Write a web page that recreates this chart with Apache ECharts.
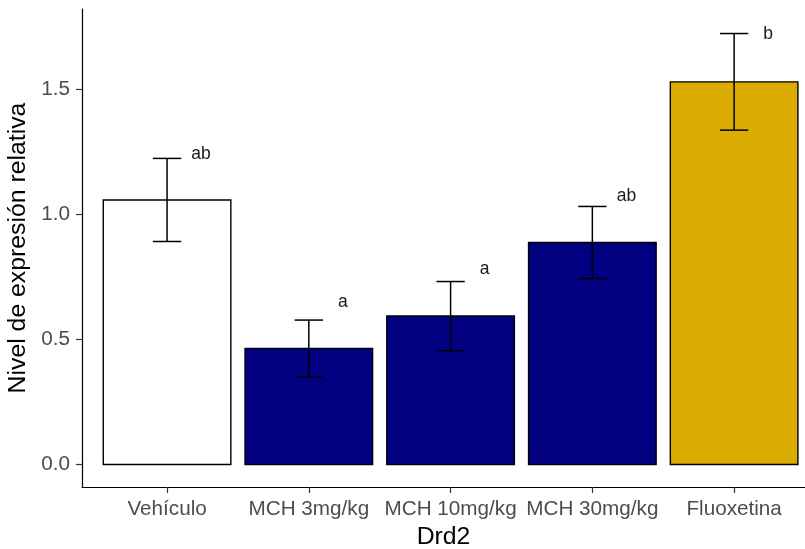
<!DOCTYPE html>
<html>
<head>
<meta charset="utf-8">
<script src="https://cdn.jsdelivr.net/npm/echarts@6/dist/echarts.min.js"></script>
<style>
  html, body { margin: 0; padding: 0; background: #fff; }
  #chart { width: 805px; height: 549px; }
</style>
</head>
<body>
<div id="chart"></div>
<script>
// Relative Drd2 expression per treatment group (mean ± SE) with significance letters
const categories = ['Vehículo', 'MCH 3mg/kg', 'MCH 10mg/kg', 'MCH 30mg/kg', 'Fluoxetina'];
const means = [1.057, 0.464, 0.593, 0.887, 1.529];
const se = [0.166, 0.113, 0.138, 0.144, 0.193];
const letters = ['ab', 'a', 'a', 'ab', 'b'];
const letterY = [1.239, 0.650, 0.782, 1.074, 1.720];
const yTicks = [0, 0.5, 1.0, 1.5];

// fill per group
const barColors = ['#FFFFFF', '#000080', '#000080', '#000080', '#DAAB00'];

const BAR_HALF = 0.45;   // bar half-width in category units
const CAP_HALF = 0.1;    // error-bar cap half-width
const LETTER_DX = 0.24;  // letter offset to the right of the bar centre

const rows = categories.map((c, i) => [i, means[i], se[i]]);

const chart = echarts.init(document.getElementById('chart'), null, { renderer: 'canvas' });

const axisFont = 'Liberation Sans, Arial, sans-serif';

chart.setOption({
  animation: false,
  backgroundColor: '#ffffff',
  grid: { left: 82, right: 0, top: 9, bottom: 62, containLabel: false, outerBoundsMode: 'none' },
  xAxis: {
    type: 'value',
    min: -0.6,
    max: 4.5,
    name: 'Drd2',
    nameLocation: 'middle',
    nameGap: 38,
    nameTextStyle: { color: '#000', fontSize: 24.8, fontFamily: axisFont },
    splitLine: { show: false },
    axisLine: { show: true, onZero: false, lineStyle: { color: '#000', width: 1.2 } },
    axisTick: { show: true, length: 6, customValues: categories.map((c, i) => i), lineStyle: { color: '#333', width: 1.2 } },
    axisLabel: {
      customValues: categories.map((c, i) => i),
      formatter: v => categories[Math.round(v)] || '',
      color: '#4D4D4D', fontSize: 20.7, fontFamily: axisFont, margin: 12
    }
  },
  yAxis: {
    type: 'value',
    min: -0.09,
    max: 1.82,
    name: 'Nivel de expresión relativa',
    nameLocation: 'middle',
    nameGap: 47,
    nameTextStyle: { color: '#000', fontSize: 24.8, fontFamily: axisFont },
    splitLine: { show: false },
    axisLine: { show: true, onZero: false, lineStyle: { color: '#000', width: 1.2 } },
    axisTick: { show: true, length: 6, customValues: yTicks, lineStyle: { color: '#333', width: 1.2 } },
    axisLabel: {
      customValues: yTicks,
      formatter: v => v.toFixed(1),
      color: '#4D4D4D', fontSize: 20.7, fontFamily: axisFont, margin: 12
    }
  },
  series: [
    {
      type: 'custom',
      name: 'bars',
      data: rows,
      renderItem: function (params, api) {
        const x = api.value(0), m = api.value(1);
        const p0 = api.coord([x - BAR_HALF, 0]);
        const p1 = api.coord([x + BAR_HALF, m]);
        return {
          type: 'rect',
          shape: { x: p0[0], y: p1[1], width: p1[0] - p0[0], height: p0[1] - p1[1] },
          style: { fill: barColors[params.dataIndex], stroke: '#000', lineWidth: 1.4 }
        };
      }
    },
    {
      type: 'custom',
      name: 'errors',
      data: rows,
      z: 3,
      renderItem: function (params, api) {
        const x = api.value(0), m = api.value(1), e = api.value(2);
        const top = api.coord([x, m + e]);
        const bot = api.coord([x, m - e]);
        const capL = api.coord([x - CAP_HALF, m])[0];
        const capR = api.coord([x + CAP_HALF, m])[0];
        const st = { stroke: '#000', lineWidth: 1.5 };
        return {
          type: 'group',
          children: [
            { type: 'line', shape: { x1: top[0], y1: top[1], x2: bot[0], y2: bot[1] }, style: st },
            { type: 'line', shape: { x1: capL, y1: top[1], x2: capR, y2: top[1] }, style: st },
            { type: 'line', shape: { x1: capL, y1: bot[1], x2: capR, y2: bot[1] }, style: st }
          ]
        };
      }
    },
    {
      type: 'custom',
      name: 'letters',
      data: categories.map((c, i) => [i, letterY[i]]),
      z: 4,
      renderItem: function (params, api) {
        const p = api.coord([api.value(0) + LETTER_DX, api.value(1)]);
        return {
          type: 'text',
          x: p[0],
          y: p[1],
          style: {
            text: letters[params.dataIndex],
            fill: '#1A1A1A',
            font: '17.5px Liberation Sans, Arial, sans-serif',
            align: 'center',
            verticalAlign: 'middle'
          }
        };
      }
    }
  ]
});
</script>
</body>
</html>
